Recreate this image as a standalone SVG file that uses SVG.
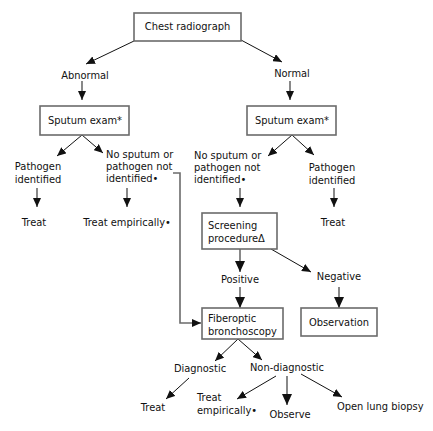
<svg xmlns="http://www.w3.org/2000/svg" width="433" height="431" viewBox="0 0 433 431">
<style>
text{font-family:"DejaVu Sans",Verdana,sans-serif;font-size:9.9px;fill:#111}
.box{fill:#fff;stroke:#6b6b6b;stroke-width:1.6}
.c{text-anchor:middle}
.ln{stroke:#111;stroke-width:1;fill:none}
.gl{stroke:#6b6b6b;stroke-width:1.6;fill:none}
</style>
<defs>
<marker id="ah" markerUnits="userSpaceOnUse" markerWidth="10" markerHeight="8" refX="9" refY="4" orient="auto"><path d="M0,0 L9,4 L0,8 z" fill="#111"/></marker>
<marker id="ahb" markerUnits="userSpaceOnUse" markerWidth="12" markerHeight="10" refX="11" refY="5" orient="auto"><path d="M0,0 L11,5 L0,10 z" fill="#111"/></marker>
</defs>
<g id="connectors">
<line class="ln" x1="134" y1="41" x2="86" y2="64" marker-end="url(#ah)"/>
<line class="ln" x1="241" y1="40" x2="282" y2="62" marker-end="url(#ah)"/>
<line class="gl" x1="82" y1="81" x2="82" y2="100" marker-end="url(#ah)"/>
<line class="gl" x1="290" y1="81" x2="290" y2="100" marker-end="url(#ah)"/>
<line class="ln" x1="82" y1="135" x2="57" y2="156" marker-end="url(#ah)"/>
<line class="ln" x1="82" y1="135" x2="103" y2="153" marker-end="url(#ah)"/>
<line class="ln" x1="292" y1="135" x2="268" y2="156" marker-end="url(#ah)"/>
<line class="ln" x1="292" y1="135" x2="314" y2="155" marker-end="url(#ah)"/>
<line class="gl" x1="37" y1="188" x2="37" y2="207" marker-end="url(#ah)"/>
<line class="gl" x1="127" y1="188" x2="127" y2="207" marker-end="url(#ah)"/>
<line class="gl" x1="240" y1="188" x2="240" y2="207" marker-end="url(#ah)"/>
<line class="gl" x1="334" y1="188" x2="334" y2="207" marker-end="url(#ah)"/>
<polyline class="gl" points="173,173 180,173 180,323 201,323" marker-end="url(#ah)"/>
<line class="gl" x1="240" y1="249" x2="240" y2="272" marker-end="url(#ahb)"/>
<line class="ln" x1="271" y1="249" x2="311" y2="272" marker-end="url(#ah)"/>
<line class="gl" x1="240" y1="287" x2="240" y2="308" marker-end="url(#ahb)"/>
<line class="gl" x1="339" y1="287" x2="339" y2="308" marker-end="url(#ahb)"/>
<line class="ln" x1="238" y1="339" x2="215" y2="361" marker-end="url(#ah)"/>
<line class="ln" x1="238" y1="339" x2="262" y2="360" marker-end="url(#ah)"/>
<line class="ln" x1="189" y1="378" x2="166" y2="399" marker-end="url(#ah)"/>
<line class="ln" x1="276" y1="376" x2="237" y2="399" marker-end="url(#ah)"/>
<line class="gl" x1="287" y1="376" x2="287" y2="405" marker-end="url(#ahb)"/>
<line class="ln" x1="301" y1="374" x2="342" y2="397" marker-end="url(#ah)"/>
</g>
<g id="chest"><rect class="box" x="134" y="13" width="107" height="28"/><text class="c" x="187.5" y="30">Chest radiograph</text></g>
<g id="abnormal"><text class="c" x="85" y="79">Abnormal</text></g>
<g id="normal"><text class="c" x="292" y="77">Normal</text></g>
<g id="sputum-left"><rect class="box" x="40" y="106" width="89" height="29"/><text class="c" x="85" y="124">Sputum exam*</text></g>
<g id="sputum-right"><rect class="box" x="247" y="106" width="89" height="29"/><text class="c" x="292" y="124">Sputum exam*</text></g>
<g id="path-left"><text class="c" x="38" y="169.5">Pathogen</text><text class="c" x="38" y="182.5">identified</text></g>
<g id="nosp-left"><text x="106" y="157.5">No sputum or</text><text x="106" y="169.5">pathogen not</text><text x="106" y="182">identified•</text></g>
<g id="treat-left"><text class="c" x="34" y="225.5">Treat</text></g>
<g id="treatemp-left"><text class="c" x="127" y="225.5">Treat empirically•</text></g>
<g id="nosp-right"><text x="194" y="158.5">No sputum or</text><text x="194" y="170.5">pathogen not</text><text x="194" y="182.5">identified•</text></g>
<g id="path-right"><text class="c" x="332" y="171">Pathogen</text><text class="c" x="332" y="183.5">identified</text></g>
<g id="treat-right"><text class="c" x="333" y="225.5">Treat</text></g>
<g id="screening"><rect class="box" x="202" y="213" width="75" height="36"/><text x="208" y="229">Screening</text><text x="208" y="242">procedureΔ</text></g>
<g id="positive"><text class="c" x="240" y="282.5">Positive</text></g>
<g id="negative"><text class="c" x="339" y="279.5">Negative</text></g>
<g id="fiberoptic"><rect class="box" x="202" y="308" width="81" height="31"/><text x="208" y="322">Fiberoptic</text><text x="208" y="334.5">bronchoscopy</text></g>
<g id="observation"><rect class="box" x="301" y="308" width="76" height="28"/><text class="c" x="339" y="325.5">Observation</text></g>
<g id="diagnostic"><text class="c" x="200" y="371.5">Diagnostic</text></g>
<g id="nondiagnostic"><text class="c" x="287" y="370.5">Non-diagnostic</text></g>
<g id="treat-bottom"><text class="c" x="153" y="410.5">Treat</text></g>
<g id="treatemp-bottom"><text x="197" y="400.5">Treat</text><text x="197" y="413.5">empirically•</text></g>
<g id="observe"><text class="c" x="290" y="417.5">Observe</text></g>
<g id="openlung"><text x="337" y="409.5">Open lung biopsy</text></g>
</svg>
